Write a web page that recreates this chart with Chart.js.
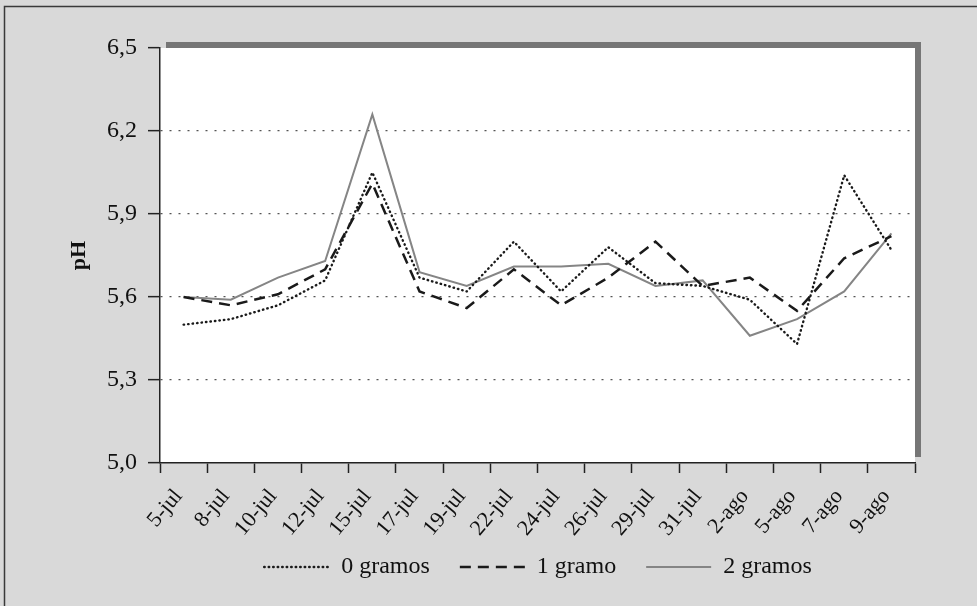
<!DOCTYPE html>
<html>
<head>
<meta charset="utf-8">
<script src="https://cdn.jsdelivr.net/npm/chart.js@4"></script>
<style>
  html, body { margin: 0; padding: 0; background: #d9d9d9; }
  #wrap { width: 977px; height: 606px; position: relative; }
</style>
</head>
<body>
<div id="wrap"><canvas id="c" width="977" height="606"></canvas></div>
<script>
const categories = ['5-jul','8-jul','10-jul','12-jul','15-jul','17-jul','19-jul','22-jul','24-jul','26-jul','29-jul','31-jul','2-ago','5-ago','7-ago','9-ago'];
const gramos0 = [5.50, 5.52, 5.57, 5.66, 6.05, 5.67, 5.62, 5.80, 5.62, 5.78, 5.65, 5.64, 5.59, 5.43, 6.04, 5.77];
const gramos1 = [5.60, 5.57, 5.61, 5.70, 6.01, 5.62, 5.56, 5.70, 5.57, 5.67, 5.80, 5.64, 5.67, 5.55, 5.74, 5.82];
const gramos2 = [5.60, 5.59, 5.67, 5.73, 6.26, 5.69, 5.64, 5.71, 5.71, 5.72, 5.64, 5.66, 5.46, 5.52, 5.62, 5.83];
const seriesNames = ['0 gramos', '1 gramo', '2 gramos'];
const yTickValues = [5.0, 5.3, 5.6, 5.9, 6.2, 6.5];
const yTickLabels = ['5,0', '5,3', '5,6', '5,9', '6,2', '6,5'];
const yTitle = 'pH';

const SERIF = "'Liberation Serif', 'Times New Roman', serif";

const framePlugin = {
  id: 'frame',
  beforeLayout(chart) {
    const lg = chart.legend;
    if (lg && !lg._fitPatched) {
      const origFit = lg.fit;
      lg.fit = function () { origFit.call(this); this.height = 65; };
      lg._fitPatched = true;
    }
  },
  afterLayout(chart) {
    const lg = chart.legend;
    if (lg) {
      const dy = 525 - lg.top; lg.top += dy; lg.bottom += dy;
      const dx = 538 - (lg.left + lg.right) / 2; lg.left += dx; lg.right += dx;
    }
  },
  beforeDraw(chart) {
    const {ctx, chartArea: a} = chart;
    ctx.save();
    ctx.fillStyle = '#d9d9d9';
    ctx.fillRect(0, 0, chart.width, chart.height);
    ctx.strokeStyle = '#3a3a3a';
    ctx.lineWidth = 1.5;
    ctx.strokeRect(4.5, 6.5, chart.width + 10, chart.height + 10);
    ctx.fillStyle = '#767676';
    ctx.fillRect(a.left + 6, a.top - 6, a.right - a.left, a.bottom - a.top);
    ctx.fillStyle = '#ffffff';
    ctx.fillRect(a.left, a.top, a.right - a.left, a.bottom - a.top);
    ctx.restore();
  }
};

new Chart(document.getElementById('c'), {
  type: 'line',
  data: {
    labels: categories,
    datasets: [
      { label: seriesNames[0], data: gramos0, borderColor: '#1a1a1a', borderWidth: 2.4,
        borderDash: [0.5, 4], borderCapStyle: 'round', pointRadius: 0, pointStyle: 'line', tension: 0 },
      { label: seriesNames[1], data: gramos1, borderColor: '#1a1a1a', borderWidth: 2.5,
        borderDash: [11, 7], pointRadius: 0, pointStyle: 'line', tension: 0 },
      { label: seriesNames[2], data: gramos2, borderColor: '#858585', borderWidth: 2,
        pointRadius: 0, pointStyle: 'line', tension: 0 }
    ]
  },
  options: {
    responsive: false,
    animation: false,
    events: [],
    layout: { padding: { left: 104, right: 62, top: 48, bottom: 0 } },
    font: { family: SERIF },
    plugins: {
      tooltip: { enabled: false },
      legend: {
        position: 'bottom',
        labels: {
          usePointStyle: true,
          pointStyleWidth: 65,
          padding: 30,
          color: '#111',
          font: { family: SERIF, size: 24 },
          generateLabels(chart) {
            const items = Chart.defaults.plugins.legend.labels.generateLabels(chart);
            items.forEach((it, i) => {
              const ds = chart.data.datasets[i];
              it.lineDash = ds.borderDash || [];
              it.lineWidth = ds.borderWidth;
              it.strokeStyle = ds.borderColor;
              it.lineCap = ds.borderCapStyle || 'butt';
              it.pointStyle = 'line';
            });
            return items;
          }
        }
      }
    },
    scales: {
      x: {
        offset: true,
        grid: { offset: true, drawOnChartArea: false, tickLength: 10, tickColor: '#222', tickWidth: 1.5 },
        border: { color: '#222', width: 1.5 },
        ticks: { autoSkip: false, minRotation: 50, maxRotation: 50, padding: 11, labelOffset: -5, color: '#111',
                 font: { family: SERIF, size: 22 } },
        afterFit(scale) { scale.height = 78; }
      },
      y: {
        min: 5.0, max: 6.5,
        afterBuildTicks(scale) { scale.ticks = yTickValues.map(v => ({ value: v })); },
        grid: {
          color: (c) => (c.tick && (c.tick.value === 6.5 || c.tick.value === 5.0)) ? 'rgba(0,0,0,0)' : '#555',
          lineWidth: 1.3,
          tickLength: 12, tickColor: '#222', tickWidth: 1.5, tickBorderDash: []
        },
        border: { color: '#222', width: 1.5, dash: [2, 7] },
        ticks: {
          padding: 11, color: '#111', font: { family: SERIF, size: 24 },
          callback: (v) => { const i = yTickValues.findIndex(t => Math.abs(t - v) < 1e-6); return i >= 0 ? yTickLabels[i] : ''; }
        },
        title: { display: true, text: yTitle, color: '#111', font: { family: SERIF, size: 22, weight: 'bold' },
                 padding: { top: -38, bottom: 0 } },
        afterFit(scale) { scale.width = 56; }
      }
    }
  },
  plugins: [framePlugin]
});
</script>
</body>
</html>
